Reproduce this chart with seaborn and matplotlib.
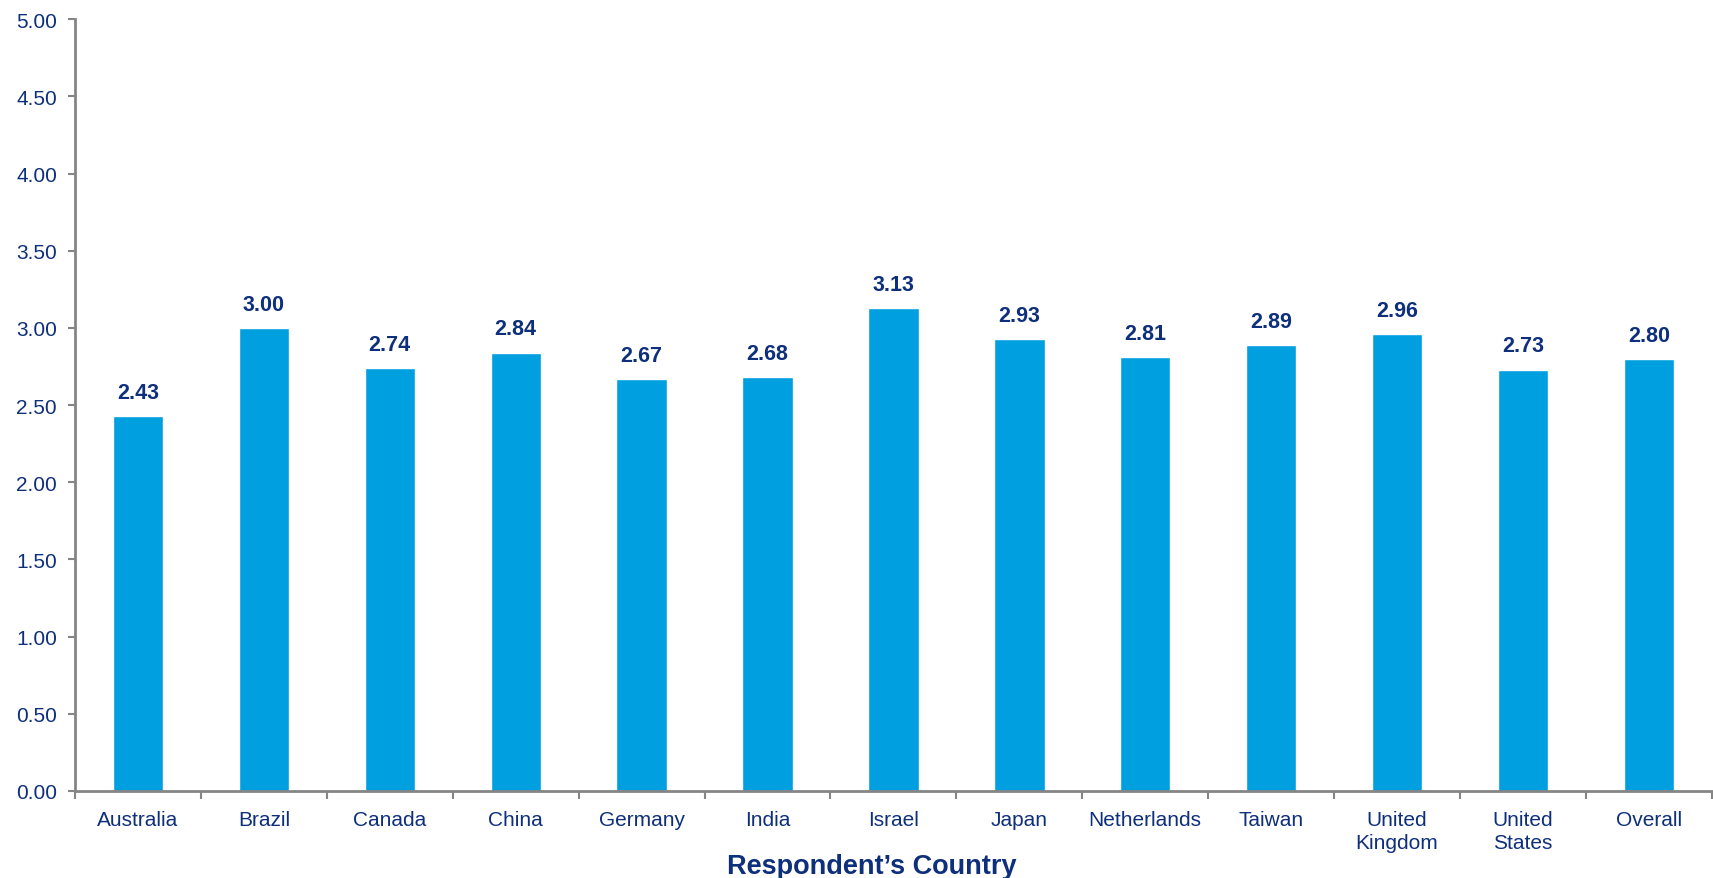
import numpy as np
import pandas as pd
import matplotlib
matplotlib.use("Agg")
import matplotlib.pyplot as plt
import seaborn as sns

countries = ["Australia", "Brazil", "Canada", "China", "Germany", "India", "Israel",
             "Japan", "Netherlands", "Taiwan", "United\nKingdom", "United\nStates", "Overall"]
scores = [2.43, 3.00, 2.74, 2.84, 2.67, 2.68, 3.13, 2.93, 2.81, 2.89, 2.96, 2.73, 2.80]
y_ticks = [0.0, 0.5, 1.0, 1.5, 2.0, 2.5, 3.0, 3.5, 4.0, 4.5, 5.0]
x_title = "Respondent\u2019s Country"

BAR = "#009FDF"
NAVY = "#0E2F7C"
SPINE = "#858585"

sns.set_theme(style="white")
plt.rcParams["font.family"] = ["Liberation Sans", "DejaVu Sans"]

df = pd.DataFrame({"country": countries, "score": scores})

fig = plt.figure(figsize=(17.13, 8.79), dpi=100)
ax = fig.add_axes([0.0438, 0.099, 0.9555, 0.878])

sns.barplot(data=df, x="country", y="score", color=BAR, width=0.4,
            saturation=1, ax=ax, errorbar=None)

for i, v in enumerate(scores):
    ax.annotate(f"{v:.2f}", (i, v), xytext=(0, 9.5), textcoords="offset points",
                ha="center", va="bottom", fontsize=15.5, fontweight="bold", color=NAVY)

n = len(countries)
ax.set_xlim(-0.5, n - 0.5)
ax.set_ylim(0, 5)
ax.set_yticks(y_ticks)
ax.set_yticklabels([f"{t:.2f}" for t in y_ticks], fontsize=15, color=NAVY)

ax.set_xticks(range(n))
ax.set_xticklabels(countries, fontsize=15, color=NAVY, linespacing=1.25)
ax.set_xticks(np.arange(-0.5, n), minor=True)
ax.tick_params(axis="x", which="major", length=0, pad=14)
ax.tick_params(axis="x", which="minor", length=6, width=1.5, color=SPINE, direction="out", bottom=True)
ax.tick_params(axis="y", length=5, width=1.5, color=SPINE, direction="out", left=True, pad=8)

ax.set_xlabel(x_title, fontsize=19.5, fontweight="bold", color=NAVY, va="center")
ax.xaxis.set_label_coords(0.487, -0.097)
ax.set_ylabel("")

for side in ["top", "right"]:
    ax.spines[side].set_visible(False)
for side in ["left", "bottom"]:
    ax.spines[side].set_color(SPINE)
    ax.spines[side].set_linewidth(2)

fig.savefig("out.png", dpi=100, facecolor="white")
